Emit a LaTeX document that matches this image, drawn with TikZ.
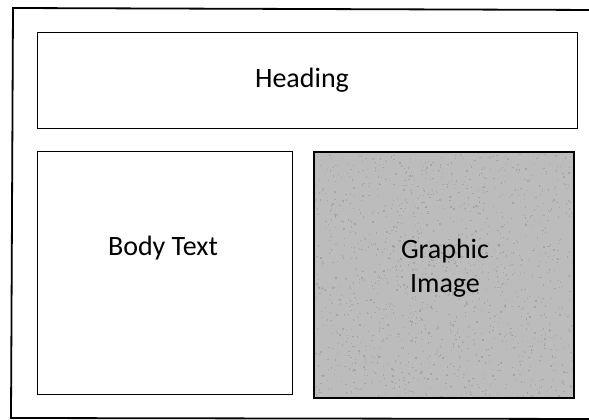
\documentclass[tikz,border=0pt]{standalone}
\usepackage{fontspec}
\setmainfont{Carlito}
\definecolor{graphicgray}{RGB}{188,188,188}
\definecolor{speck}{RGB}{150,150,150}
\begin{document}
\begin{tikzpicture}[x=1pt,y=-1pt,
  box/.style={draw=black, line width=1.4pt},
  lbl/.style={font=\fontsize{28}{34}\selectfont, anchor=base, inner sep=0pt}]
\useasboundingbox (0,0) rectangle (589,420);
\fill[white] (0,0) rectangle (589,420);
% outer frame (right side cropped)
\draw[line width=1.8pt] (600,10) -- (13,8) -- (11,418) -- (600,419);
\node[box, minimum width=540pt, minimum height=96pt, anchor=north west] (heading) at (37,32) {};
\node[lbl] (headingtext) at (302,88) {Heading};
\node[box, minimum width=255pt, minimum height=243pt, anchor=north west] (body) at (37,151) {};
\node[lbl] (bodytext) at (163,255) {Body Text};
\node[box, fill=graphicgray, minimum width=259pt, minimum height=245pt, anchor=north west] (graphic) at (314,152) {};
\begin{scope}
\clip (315,153) rectangle (572,396);
\pgfmathsetseed{7}
\foreach \i in {1,...,1400}{
  \pgfmathsetmacro{\px}{315+257*rnd}
  \pgfmathsetmacro{\py}{153+243*rnd}
  \fill[speck, opacity=0.6] (\px,\py) rectangle ++(1.3,1.3);
}
\end{scope}
\draw[line width=1.4pt] (graphic.north west) rectangle (graphic.south east);
\node[lbl] (graphictext) at (445,258) {Graphic};
\node[lbl] (imagetext) at (445,292) {Image};
\end{tikzpicture}
\end{document}
